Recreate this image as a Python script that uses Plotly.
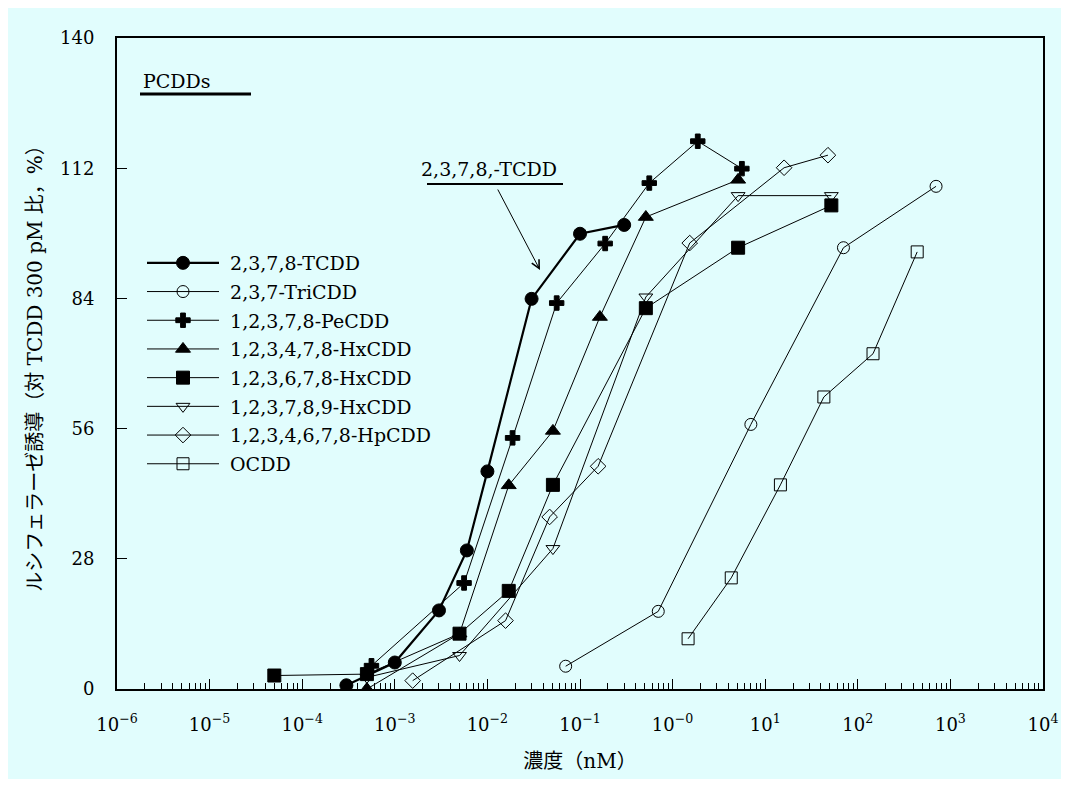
import plotly.graph_objects as go

# ---------------- data ----------------
tcdd_x = [3e-4, 1e-3, 3e-3, 6e-3, 1e-2, 3e-2, 0.1, 0.3]
tcdd_y = [0.8, 5.7, 16.9, 29.8, 46.8, 83.9, 97.9, 99.8]

tricdd_x = [0.07, 0.7, 7, 70, 700]
tricdd_y = [4.9, 16.7, 56.9, 94.9, 108.1]

pecdd_x = [5.6e-4, 5.6e-3, 0.0187, 0.056, 0.187, 0.56, 1.87, 5.6]
pecdd_y = [5.0, 22.8, 54.0, 83.0, 95.8, 108.8, 117.8, 111.9]

hx478_x = [5e-4, 5e-3, 0.017, 0.051, 0.164, 0.514, 5.1]
hx478_y = [0.0, 11.9, 43.8, 55.5, 80.0, 101.5, 109.5]

hx678_x = [5e-5, 5e-4, 5e-3, 0.017, 0.051, 0.514, 5.1, 51.8]
hx678_y = [2.9, 3.2, 11.9, 21.1, 43.9, 81.9, 94.9, 104.0]

hx789_x = [5e-4, 5e-3, 0.051, 0.514, 5.1, 51.8]
hx789_y = [2.5, 7.2, 30.2, 84.3, 106.1, 106.1]

hpcdd_x = [1.56e-3, 0.0157, 0.047, 0.157, 1.53, 16, 47.6]
hpcdd_y = [1.8, 14.7, 37.0, 47.9, 95.9, 112.1, 114.8]

ocdd_x = [1.47, 4.3, 14.6, 43, 146, 438]
ocdd_y = [10.8, 23.9, 43.9, 62.8, 72.1, 94.0]

series_names = ["2,3,7,8-TCDD", "2,3,7-TriCDD", "1,2,3,7,8-PeCDD", "1,2,3,4,7,8-HxCDD",
                "1,2,3,6,7,8-HxCDD", "1,2,3,7,8,9-HxCDD", "1,2,3,4,6,7,8-HpCDD", "OCDD"]

x_tick_exps = [-6, -5, -4, -3, -2, -1, 0, 1, 2, 3, 4]
x_tick_text = ["10<sup>−6</sup>", "10<sup>−5</sup>", "10<sup>−4</sup>", "10<sup>−3</sup>",
               "10<sup>−2</sup>", "10<sup>−1</sup>", "10<sup>−0</sup>", "10<sup>1</sup>",
               "10<sup>2</sup>", "10<sup>3</sup>", "10<sup>4</sup>"]
y_ticks = [0, 28, 56, 84, 112, 140]

# ---------------- styles ----------------
BG = "#e1fdfd"
FONT = "DejaVu Serif, Noto Sans CJK JP"
styles = [
    dict(symbol="circle", size=13, lw=2.2),
    dict(symbol="circle-open", size=12, lw=1),
    dict(symbol="cross", size=12, lw=1),
    dict(symbol="triangle-up", size=13, lw=1),
    dict(symbol="square", size=13, lw=1),
    dict(symbol="triangle-down-open", size=12, lw=1),
    dict(symbol="diamond-open", size=12, lw=1),
    dict(symbol="square-open", size=12, lw=1),
]
data = [(tcdd_x, tcdd_y), (tricdd_x, tricdd_y), (pecdd_x, pecdd_y), (hx478_x, hx478_y),
        (hx678_x, hx678_y), (hx789_x, hx789_y), (hpcdd_x, hpcdd_y), (ocdd_x, ocdd_y)]

fig = go.Figure()
for i, ((xs, ys), name, st) in enumerate(zip(data, series_names, styles)):
    fig.add_trace(go.Scatter(
        x=xs, y=ys, name="\u00a0" + name, mode="lines+markers",
        legendgroup=f"g{i}",
        line=dict(color="black", width=st["lw"]),
        marker=dict(symbol=st["symbol"], size=st["size"], color="black",
                    line=dict(color="black", width=1)),
    ))

minor_vals = [m * 10.0 ** e for e in range(-6, 4) for m in range(2, 10)]

# page has an 8px body margin; screen coords of the plot area
OFF = 8
W, H = 1069 - 2 * OFF, 787 - 2 * OFF
PX0, PX1, PY0, PY1 = 117, 1043, 38, 689
L, R, T, B = PX0 - OFF, OFF + W - PX1, PY0 - OFF, OFF + H - PY1


def px(xs):
    return (xs - PX0) / (PX1 - PX0)


def py(ys):
    return (PY1 - ys) / (PY1 - PY0)


fig.update_layout(
    width=W, height=H,
    margin=dict(l=L, r=R, t=T, b=B, autoexpand=False),
    paper_bgcolor=BG, plot_bgcolor=BG,
    font=dict(family=FONT, size=18, color="black"),
    showlegend=True,
    legend=dict(x=px(142), y=py(244), xanchor="left", yanchor="top",
                bgcolor="rgba(0,0,0,0)", borderwidth=0,
                font=dict(family=FONT, size=19),
                tracegroupgap=1, traceorder="grouped", itemwidth=72),
    xaxis=dict(type="log", range=[-6, 4], showgrid=False, zeroline=False,
               showline=True, linecolor="black", linewidth=2, mirror=True,
               ticks="inside", ticklen=10, tickwidth=1, tickcolor="black",
               tickvals=[10.0 ** e for e in x_tick_exps], ticktext=x_tick_text,
               tickfont=dict(family=FONT, size=18), ticklabelstandoff=18,
               minor=dict(tickvals=minor_vals, ticks="inside", ticklen=6,
                          tickwidth=1, tickcolor="black", showgrid=False),
               title=dict(text="濃度（nM）", font=dict(family=FONT, size=20), standoff=20)),
    yaxis=dict(range=[0, 140], showgrid=False, zeroline=False,
               showline=True, linecolor="black", linewidth=2, mirror=True,
               ticks="inside", ticklen=10, tickwidth=1, tickcolor="black",
               tickvals=y_ticks, tickfont=dict(family=FONT, size=18),
               ticklabelstandoff=17,
               title=dict(text="ルシフェラーゼ誘導（対 TCDD 300 pM 比，%）",
                          font=dict(family=FONT, size=20), standoff=12)),
)

# PCDDs label with underline
fig.add_annotation(xref="paper", yref="paper", x=px(141), y=py(81), text="PCDDs",
                   showarrow=False, xanchor="left", yanchor="middle",
                   font=dict(family=FONT, size=19))
fig.add_shape(type="line", xref="paper", yref="paper", x0=px(140), x1=px(251),
              y0=py(94), y1=py(94), line=dict(color="black", width=3))

# 2,3,7,8,-TCDD label with underline and arrow
fig.add_annotation(xref="paper", yref="paper", x=px(489), y=py(169), text="2,3,7,8,-TCDD",
                   showarrow=False, xanchor="center", yanchor="middle",
                   font=dict(family=FONT, size=19))
fig.add_shape(type="line", xref="paper", yref="paper", x0=px(427), x1=px(563),
              y0=py(184), y1=py(184), line=dict(color="black", width=2))
fig.add_annotation(xref="paper", yref="paper", x=px(540), y=py(270),
                   ax=497 - 540, ay=188 - 270, axref="pixel", ayref="pixel",
                   text="", showarrow=True, arrowhead=5, arrowsize=1.6,
                   arrowwidth=1, arrowcolor="black")

fig.write_html("out.html")
